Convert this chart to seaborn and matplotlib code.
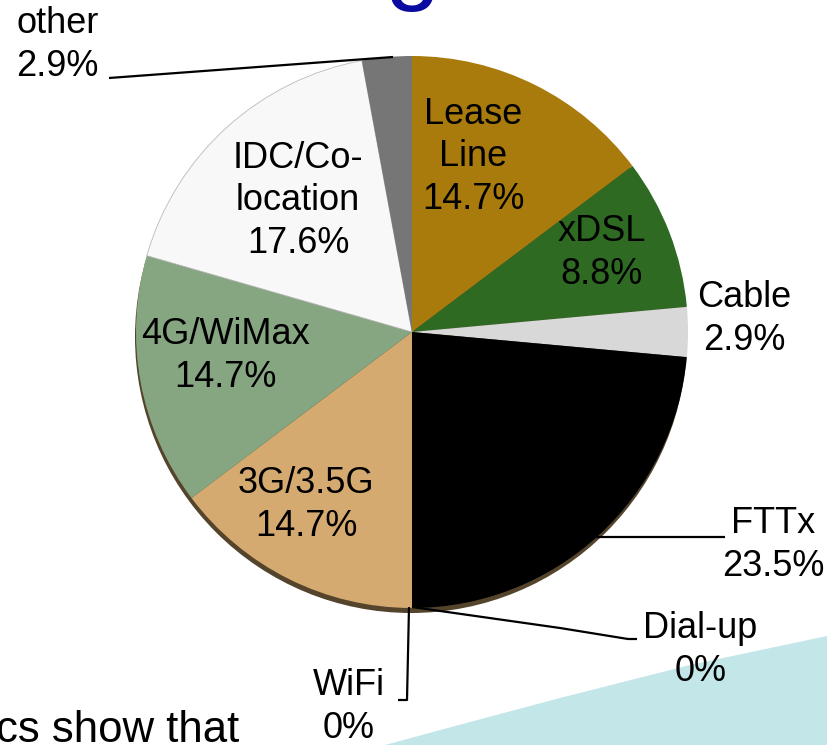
import matplotlib
matplotlib.use("Agg")
import matplotlib.pyplot as plt
import seaborn as sns
from matplotlib.patches import Circle, Polygon

# ---- data ----
categories = ["Lease Line", "xDSL", "Cable", "FTTx", "Dial-up", "WiFi",
              "3G/3.5G", "4G/WiMax", "IDC/Co-location", "other"]
display_names = ["Lease\nLine", "xDSL", "Cable", "FTTx", "Dial-up", "WiFi",
                 "3G/3.5G", "4G/WiMax", "IDC/Co-\nlocation", "other"]
shares = [14.7, 8.8, 2.9, 23.5, 0, 0, 14.7, 14.7, 17.6, 2.9]

# ---- style ----
colors = ["#A97B0D", "#2E6A22", "#D8D8D8", "#000000", "#000000", "#000000",
          "#D5AA70", "#86A581", "#F8F8F8", "#767676"]

sns.set_theme(style="white")
plt.rcParams["font.family"] = ["Liberation Sans", "DejaVu Sans"]

W, H = 827, 745
fig = plt.figure(figsize=(W / 100, H / 100), dpi=100)
ax = fig.add_axes([0, 0, 1, 1])


def Y(y):
    return H - y


cx, cy, R = 412, 332, 276

# decorative teal band (bottom right)
band = Polygon([(385, Y(745)), (470, Y(722)), (560, Y(698)), (690, Y(665)),
                (827, Y(636)), (827, Y(745))], closed=True,
               facecolor="#C3E6E8", edgecolor="none", zorder=0)
ax.add_patch(band)

# shadow of the pie
ax.add_patch(Circle((cx - 1, Y(cy) - 5), R, facecolor="#54442C",
                    edgecolor="none", zorder=1))

wedges, _ = ax.pie(shares, colors=colors, startangle=90, counterclock=False,
                   center=(cx, Y(cy)), radius=R, frame=True,
                   wedgeprops=dict(linewidth=0, edgecolor="none"))
for w in wedges:
    w.set_zorder(2)
wedges[categories.index("IDC/Co-location")].set_edgecolor("#BBBBBB")
wedges[categories.index("IDC/Co-location")].set_linewidth(0.6)

ax.set_xlim(0, W)
ax.set_ylim(0, H)
ax.set_aspect("equal")
ax.axis("off")

fs = 26
label_pos = {
    "Lease Line": (473, 157, "center"),
    "xDSL": (602, 253, "center"),
    "Cable": (697, 319, "left"),
    "FTTx": (722, 545, "left"),
    "Dial-up": (643, 650, "left"),
    "WiFi": (313, 707, "left"),
    "3G/3.5G": (306, 505, "center"),
    "4G/WiMax": (225, 356, "center"),
    "IDC/Co-location": (298, 201, "center"),
    "other": (16, 45, "left"),
}
for cat, name, val in zip(categories, display_names, shares):
    x, y, ha = label_pos[cat]
    txt = f"{name}\n{val:g}%"
    ax.text(x, Y(y), txt, ha=ha, va="center", fontsize=fs,
            linespacing=1.27, color="black", multialignment="center", zorder=5)

# leader lines
lk = dict(color="black", lw=1.6, zorder=4, solid_capstyle="butt")
ax.plot([109, 393], [Y(78), Y(57)], **lk)
ax.plot([590, 725], [Y(537), Y(537)], **lk)
ax.plot([412, 560, 628, 637], [Y(607), Y(628), Y(639), Y(639)], **lk)
ax.plot([409, 407, 398], [Y(607), Y(700), Y(700)], **lk)

# fragments of surrounding slide text
ax.text(413, Y(-9), "g", ha="center", va="baseline", fontsize=72,
        color="#0A0AA0", zorder=5)
ax.text(-4, Y(742), "cs show that", ha="left", va="baseline", fontsize=31.5,
        color="black", zorder=5)

fig.savefig("out.png", dpi=100)
